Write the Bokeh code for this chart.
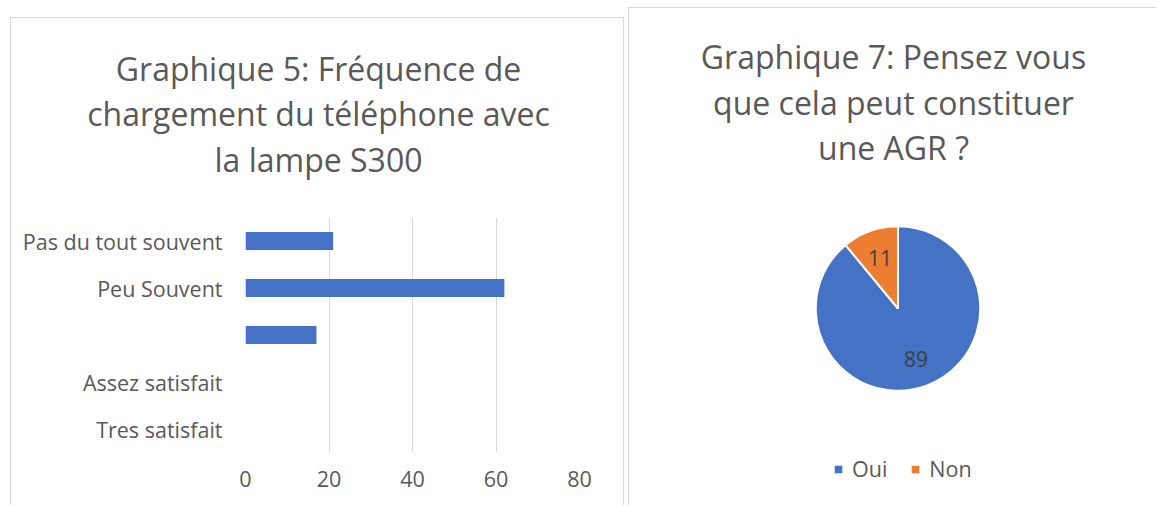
import numpy as np
from bokeh.plotting import figure
from bokeh.models import ColumnDataSource, FactorRange, Range1d, FixedTicker
from bokeh.layouts import row, column
from bokeh.embed import file_html
from bokeh.resources import INLINE
from bokeh.core.properties import value

# ---- data ----
bar_title = ["Graphique 5: Fréquence de", "chargement du téléphone avec", "la lampe S300"]
bar_categories = ["Pas du tout souvent", "Peu Souvent", "", "Assez satisfait", "Tres satisfait"]
bar_values = [21, 62, 17, 0, 0]
bar_ticks = [0, 20, 40, 60, 80]

pie_title = ["Graphique 7: Pensez vous", "que cela peut constituer", "une AGR ?"]
pie_labels = ["Oui", "Non"]
pie_values = [89, 11]
pie_colors = ["#4472C4", "#ED7D31"]

FONT = "Open Sans"
TEXT = "#595959"
BLUE = "#4472C4"
GRID = "#D9D9D9"
BORDER = "1px solid #D9D9D9"
TITLE_SIZE = "32px"
LABEL_SIZE = "21.5px"
LINE_STEP = 45


def header(width, height, lines, first_y, borders):
    """A figure whose frame is the whole canvas, used only for a centred multi-line title."""
    w_in = width - (2 if "border-right" in borders else 1)
    h_in = height - 1
    h = figure(width=width, height=height, title=None,
               x_range=Range1d(0, w_in), y_range=Range1d(h_in, 0),
               x_axis_location=None, y_axis_location=None,
               output_backend="svg", toolbar_location=None,
               min_border=0, frame_align=False, styles=borders)
    h.outline_line_color = None
    h.grid.grid_line_color = None
    ys = [first_y + i * LINE_STEP for i in range(len(lines))]
    h.text(x=[w_in / 2] * len(lines), y=ys, text=lines,
           text_align="center", text_baseline="middle",
           text_font=value(FONT), text_font_size=TITLE_SIZE, text_color=TEXT)
    return h


# ---- bar chart panel ----
W1 = 614
h1 = header(W1, 200, bar_title, 50,
            {"border-top": BORDER, "border-left": BORDER, "border-right": BORDER})
p1 = figure(width=W1, height=288, title=None,
            y_range=FactorRange(factors=bar_categories[::-1]),
            x_range=Range1d(0, 80),
            output_backend="svg", toolbar_location=None,
            min_border_left=234, min_border_right=46,
            min_border_top=0, min_border_bottom=53, frame_align=False,
            styles={"border-left": BORDER, "border-right": BORDER})
p1.outline_line_color = None

src1 = ColumnDataSource(dict(cat=bar_categories, val=bar_values))
p1.hbar(y="cat", right="val", height=0.38, source=src1, fill_color=BLUE, line_color=None)

p1.xaxis.ticker = FixedTicker(ticks=bar_ticks)
for ax in (p1.xaxis, p1.yaxis):
    ax.axis_line_color = None
    ax.major_tick_line_color = None
    ax.minor_tick_line_color = None
    ax.major_tick_out = 0
    ax.major_tick_in = 0
    ax.minor_tick_out = 0
    ax.minor_tick_in = 0
    ax.major_label_text_font = FONT
    ax.major_label_text_font_size = LABEL_SIZE
    ax.major_label_text_color = TEXT
p1.xaxis.major_label_standoff = 18
p1.yaxis.major_label_standoff = 23
p1.ygrid.grid_line_color = None
p1.xgrid.grid_line_color = GRID

panel1 = column(h1, p1, margin=(17, 0, 0, 10))

# ---- pie chart panel ----
W2 = 528
h2 = header(W2, 181, pie_title, 48, {"border-top": BORDER, "border-left": BORDER})
p2 = figure(width=W2, height=317, title=None,
            x_range=Range1d(-168, 168), y_range=Range1d(-188, 120),
            x_axis_location=None, y_axis_location=None,
            output_backend="svg", toolbar_location=None,
            min_border_left=100, min_border_right=91,
            min_border_top=0, min_border_bottom=9, frame_align=False,
            styles={"border-left": BORDER})
p2.outline_line_color = None
p2.grid.grid_line_color = None

vals = np.array(pie_values, dtype=float)
frac = vals / vals.sum()
cum = np.concatenate([[0], np.cumsum(frac)[:-1]])
start = np.pi / 2 - 2 * np.pi * cum
end = start - 2 * np.pi * frac
mid = (start + end) / 2
R = 82
src2 = ColumnDataSource(dict(label=pie_labels, val=[str(v) for v in pie_values],
                             start=start, end=end, color=pie_colors,
                             lx=0.65 * R * np.cos(mid), ly=0.65 * R * np.sin(mid)))
p2.wedge(x=0, y=0, radius=R, start_angle="start", end_angle="end", direction="clock",
         fill_color="color", line_color="white", line_width=2,
         legend_field="label", source=src2)
p2.text(x="lx", y="ly", text="val", source=src2, text_align="center", text_baseline="middle",
        text_font=value(FONT), text_font_size="21px", text_color="#404040")

lg = p2.legend[0]
lg.location = (103, 13)
lg.orientation = "horizontal"
lg.glyph_width = 12
lg.glyph_height = 12
lg.label_text_font = FONT
lg.label_text_font_size = LABEL_SIZE
lg.label_text_color = TEXT
lg.label_standoff = 8
lg.spacing = 22
lg.padding = 4
lg.margin = 0
lg.border_line_color = None
lg.background_fill_alpha = 0

panel2 = column(h2, p2, margin=(7, 0, 0, 4))

layout = row(panel1, panel2)
open("out.html", "w").write(file_html(layout, INLINE))
